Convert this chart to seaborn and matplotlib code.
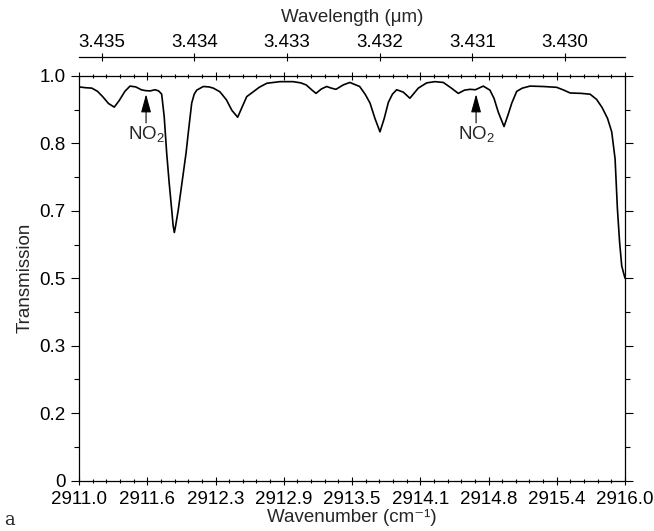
import numpy as np
import pandas as pd
import matplotlib
matplotlib.use("Agg")
import matplotlib.pyplot as plt
from matplotlib.ticker import MultipleLocator
import seaborn as sns

# spectrum
wavenumber = [
    2911.000, 2911.060, 2911.117, 2911.170, 2911.220, 2911.270, 2911.323, 2911.370,
    2911.420, 2911.467, 2911.520, 2911.570, 2911.604, 2911.650, 2911.696, 2911.730,
    2911.757, 2911.780, 2911.803, 2911.826, 2911.849, 2911.862, 2911.873, 2911.885,
    2911.909, 2911.945, 2911.980, 2912.005, 2912.032, 2912.055, 2912.078, 2912.138,
    2912.190, 2912.230, 2912.290, 2912.350, 2912.400, 2912.453, 2912.490, 2912.536,
    2912.596, 2912.650, 2912.720, 2912.840, 2912.960, 2913.030, 2913.080, 2913.130,
    2913.170, 2913.220, 2913.268, 2913.310, 2913.353, 2913.420, 2913.480, 2913.570,
    2913.620, 2913.665, 2913.710, 2913.756, 2913.795, 2913.833, 2913.870, 2913.909,
    2913.970, 2914.030, 2914.070, 2914.107, 2914.184, 2914.260, 2914.336, 2914.410,
    2914.473, 2914.530, 2914.580, 2914.630, 2914.702, 2914.763, 2914.800, 2914.840,
    2914.892, 2914.930, 2914.963, 2915.008, 2915.060, 2915.130, 2915.250, 2915.374,
    2915.440, 2915.497, 2915.600, 2915.680, 2915.740, 2915.790, 2915.840, 2915.878,
    2915.909, 2915.930, 2915.950, 2915.970, 2916.000,
]
transmission = [
    0.973, 0.971, 0.970, 0.962, 0.948, 0.932, 0.923, 0.940,
    0.962, 0.975, 0.973, 0.966, 0.964, 0.963, 0.966, 0.963,
    0.955, 0.900, 0.809, 0.735, 0.669, 0.630, 0.613, 0.630,
    0.669, 0.740, 0.809, 0.870, 0.933, 0.955, 0.965, 0.974,
    0.973, 0.970, 0.961, 0.941, 0.915, 0.898, 0.921, 0.949,
    0.961, 0.972, 0.982, 0.986, 0.986, 0.983, 0.978, 0.966,
    0.957, 0.968, 0.974, 0.970, 0.967, 0.978, 0.984, 0.974,
    0.955, 0.933, 0.895, 0.862, 0.895, 0.935, 0.955, 0.966,
    0.960, 0.945, 0.958, 0.970, 0.983, 0.986, 0.984, 0.970,
    0.957, 0.965, 0.967, 0.966, 0.975, 0.965, 0.945, 0.910,
    0.875, 0.905, 0.933, 0.962, 0.970, 0.975, 0.974, 0.972,
    0.965, 0.958, 0.957, 0.955, 0.942, 0.922, 0.895, 0.862,
    0.795, 0.673, 0.590, 0.530, 0.500,
]

x_tick_labels = ["2911.0", "2911.6", "2912.3", "2912.9", "2913.5",
                 "2914.1", "2914.8", "2915.4", "2916.0"]
y_tick_labels = ["0", "0.2", "0.3", "0.5", "0.7", "0.8", "1.0"]
wl_ticks = [3.435, 3.434, 3.433, 3.432, 3.431, 3.430]
no2_lines = [2911.614, 2914.636]

df = pd.DataFrame({"wn": wavenumber, "T": transmission})

sns.set_theme(style="ticks")
plt.rcParams["font.family"] = ["Liberation Sans", "DejaVu Sans"]
plt.rcParams["mathtext.default"] = "regular"
fs = 13.5

fig = plt.figure(figsize=(6.54, 5.31), dpi=100)
ax = fig.add_axes([0.1208, 0.0951, 0.8349, 0.7618])

sns.lineplot(data=df, x="wn", y="T", color="black", linewidth=1.2,
             sort=False, estimator=None, ax=ax)

ax.set_xlim(2911.0, 2916.0)
ax.set_ylim(0, 1)

ax.set_xticks(np.linspace(2911.0, 2916.0, len(x_tick_labels)), labels=x_tick_labels)
ax.xaxis.set_minor_locator(MultipleLocator(0.125))
ax.set_yticks(np.linspace(0, 1, len(y_tick_labels)), labels=y_tick_labels)
ax.yaxis.set_minor_locator(MultipleLocator(1 / 12))

ax.tick_params(which="both", top=True, right=True, direction="out",
               colors="black", labelsize=fs, width=0.8)
ax.tick_params(axis="x", which="both", direction="inout", pad=4.5)
ax.tick_params(which="major", length=6)
ax.tick_params(which="minor", length=3.5)
for s in ax.spines.values():
    s.set_color("black")
    s.set_linewidth(0.9)

ax.set_xlabel("Wavenumber (cm⁻¹)", fontsize=fs, labelpad=0.5)
ax.set_ylabel("Transmission", fontsize=fs, labelpad=4)

# wavelength axis on top
secax = ax.secondary_xaxis(1.047, functions=(lambda w: 1e4 / w, lambda l: 1e4 / l))
secax.set_xticks(wl_ticks, labels=[f"{v:.3f}" for v in wl_ticks])
secax.tick_params(direction="inout", length=6, width=0.8, labelsize=fs, pad=1,
                  colors="black")
secax.spines["top"].set_color("black")
secax.spines["top"].set_linewidth(0.9)
secax.set_xlabel("Wavelength (μm)", fontsize=fs, labelpad=9)

# NO2 markers
for xw in no2_lines:
    ax.annotate("", xy=(xw, 0.955), xytext=(xw, 0.884),
                arrowprops=dict(arrowstyle="-|>,head_length=0.8,head_width=0.22",
                                color="black", lw=0.8, mutation_scale=14,
                                shrinkA=0, shrinkB=0))
    ax.text(xw, 0.857, "NO$_2$", ha="center", va="center", fontsize=fs)

fig.text(0.006, 0.012, "a", family="DejaVu Serif", fontsize=13)

plt.savefig("out.png", dpi=100)
